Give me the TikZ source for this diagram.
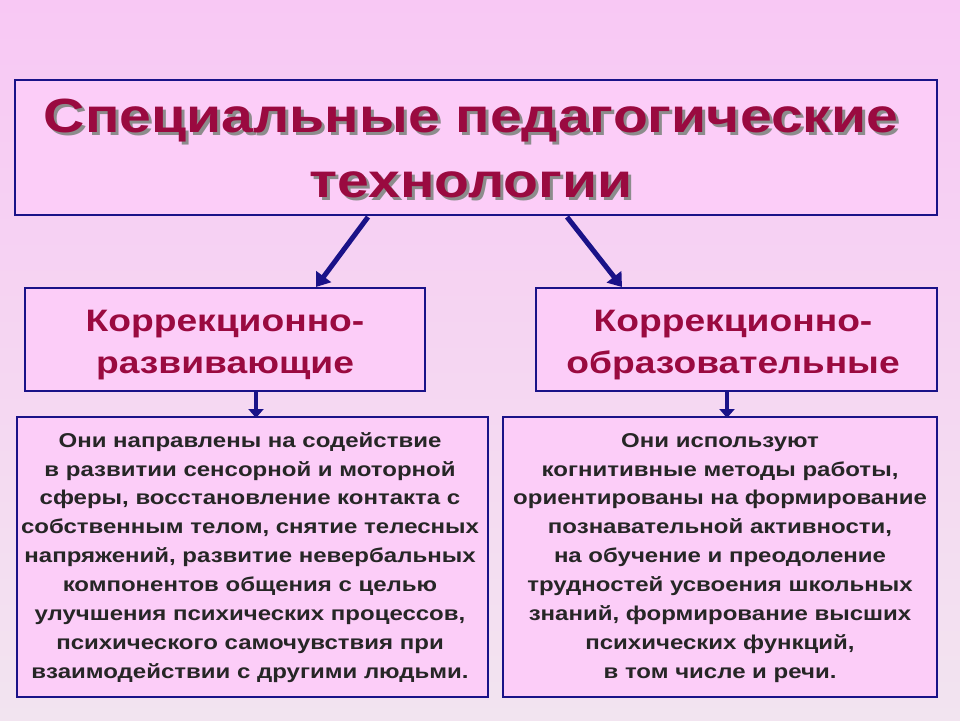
\documentclass[tikz,border=0pt]{standalone}
\usepackage{fontspec}
\setmainfont{Liberation Sans}
\usetikzlibrary{arrows.meta}
\newcommand\hsq[2]{\scalebox{#1}[1]{\begin{tabular}{@{}c@{}}#2\end{tabular}}}
\begin{document}
\begin{tikzpicture}[x=1pt,y=-1pt,
  box/.style={draw=navy,line width=2.5pt,fill=boxpink},
  ttl/.style={text=maroon,font=\bfseries},
  arr/.style={draw=navy,line width=5pt,-{Triangle[length=13pt,width=18pt]}},
  sarr/.style={draw=navy,line width=4pt,-{Triangle[length=9pt,width=15pt]}},
  body/.style={inner sep=0pt,font=\bfseries\fontsize{20}{28.9}\selectfont,text=black!85}]
\definecolor{navy}{HTML}{1A1288}
\definecolor{boxpink}{HTML}{FCCDF8}
\definecolor{maroon}{HTML}{9A0A40}
\definecolor{bgtop}{HTML}{F8C8F4}
\definecolor{bgbot}{HTML}{F2E4F0}
\shade[top color=bgtop,bottom color=bgbot] (0,0) rectangle (960,720);
\useasboundingbox (0,0) rectangle (960,720);
\draw[box] (15,80) rectangle (937,215);
\draw[box] (25,288) rectangle (425,391);
\draw[box] (536,288) rectangle (937,391);
\draw[box] (17,417) rectangle (488,697);
\draw[box] (503,417) rectangle (937,697);
\node[inner sep=0pt,text=black!45,font=\bfseries\fontsize{48}{65}\selectfont] at (474,155) {\hsq{1.19}{Специальные педагогические\\технологии}};
\node[inner sep=0pt,ttl,font=\bfseries\fontsize{48}{65}\selectfont] (title) at (471,152) {\hsq{1.19}{Специальные педагогические\\технологии}};
\node[inner sep=0pt,ttl,font=\bfseries\fontsize{31}{42}\selectfont] (l) at (225,344) {\hsq{1.2}{Коррекционно-\\развивающие}};
\node[inner sep=0pt,ttl,font=\bfseries\fontsize{31}{42}\selectfont] (r) at (733,344) {\hsq{1.2}{Коррекционно-\\образовательные}};
\node[body] (bl) at (250,557) {\hsq{1.2}{Они направлены на  содействие\\в развитии сенсорной и моторной\\сферы, восстановление контакта с\\собственным телом, снятие телесных\\напряжений, развитие невербальных\\компонентов общения с целью\\улучшения психических процессов,\\психического самочувствия при\\взаимодействии с другими людьми.}};
\node[body] (br) at (720,557) {\hsq{1.2}{Они используют\\когнитивные методы работы,\\ориентированы на формирование\\познавательной активности,\\на обучение и преодоление\\трудностей усвоения школьных\\знаний, формирование высших\\психических функций,\\в том числе и речи.}};
\coordinate (a1) at (368,217); \coordinate (a1e) at (316,287);
\coordinate (a2) at (567,217); \coordinate (a2e) at (622,287);
\draw[arr] (a1) -- (a1e);
\draw[arr] (a2) -- (a2e);
\coordinate (b1) at (256,392); \coordinate (b1e) at (256,418);
\coordinate (b2) at (727,392); \coordinate (b2e) at (727,418);
\draw[sarr] (b1) -- (b1e);
\draw[sarr] (b2) -- (b2e);
\end{tikzpicture}
\end{document}
